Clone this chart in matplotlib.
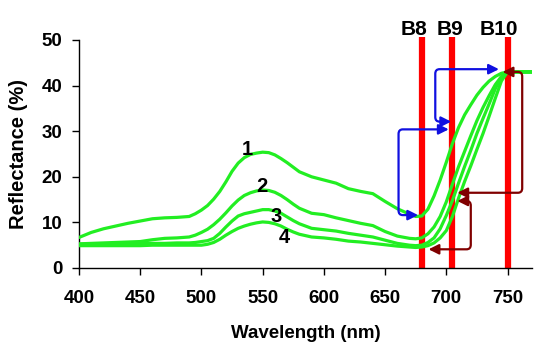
import matplotlib
matplotlib.use("Agg")
import matplotlib.pyplot as plt
from matplotlib.path import Path
from matplotlib.patches import FancyArrowPatch
import numpy as np

plt.rcParams['font.family'] = ['Liberation Sans', 'DejaVu Sans']
plt.rcParams['font.weight'] = 'bold'

wavelength = [400, 410, 420, 430, 440, 450, 460, 470, 480, 490,
              495, 500, 505, 510, 515, 520, 525, 530, 535, 540, 545, 550, 555, 560, 565, 570, 575, 580,
              590, 600, 610, 620, 630, 640, 650, 660,
              670, 675, 680, 685, 690, 695, 700, 705, 710, 715, 720, 725, 730, 735, 740, 745, 750,
              760, 770]
curve1 = [6.7, 7.8, 8.6, 9.2, 9.8, 10.3, 10.8, 11.0, 11.1, 11.3,
          11.9, 12.7, 13.7, 15.1, 16.8, 18.9, 21.2, 23.0, 24.2, 24.9, 25.2, 25.4, 25.3, 24.8, 24.0, 23.1, 22.1, 21.1,
          20.0, 19.3, 18.6, 17.4, 16.8, 16.3, 14.6, 13.0,
          11.8, 11.3, 11.4, 12.9, 15.8, 19.3, 23.2, 27.3, 30.8, 33.6, 35.8, 37.9, 39.6, 41.0, 42.0, 42.7, 43.0,
          43.0, 43.0]
curve2 = [5.3, 5.4, 5.5, 5.6, 5.7, 5.8, 6.2, 6.5, 6.6, 6.8,
          7.2, 7.8, 8.5, 9.5, 10.7, 12.1, 13.6, 14.9, 15.9, 16.5, 16.9, 17.1, 17.0, 16.6, 15.9, 15.0, 14.0, 13.1,
          12.0, 11.7, 11.0, 10.4, 9.8, 9.3, 8.0, 7.0,
          6.5, 6.4, 6.6, 7.5, 9.0, 11.3, 14.5, 18.4, 22.2, 25.6, 29.0, 32.3, 35.2, 37.8, 40.2, 42.0, 43.0,
          43.0, 43.0]
curve3 = [5.2, 5.2, 5.3, 5.3, 5.3, 5.4, 5.4, 5.4, 5.5, 5.5,
          5.6, 5.8, 6.0, 6.5, 7.6, 9.0, 10.3, 11.4, 11.9, 12.2, 12.5, 12.8, 12.8, 12.5, 12.0, 11.2, 10.4, 9.7,
          8.7, 8.4, 8.1, 7.6, 7.2, 6.8, 6.1, 5.4,
          5.0, 4.9, 5.0, 5.6, 6.6, 8.6, 11.5, 14.8, 18.6, 22.3, 25.8, 29.5, 32.8, 36.0, 39.3, 41.8, 43.0,
          43.0, 43.0]
curve4 = [4.9, 4.9, 4.9, 4.9, 4.9, 4.9, 5.0, 5.0, 5.0, 5.0,
          5.0, 5.0, 5.2, 5.6, 6.3, 7.2, 8.0, 8.7, 9.2, 9.6, 9.9, 10.1, 10.0, 9.7, 9.2, 8.5, 7.9, 7.4,
          6.8, 6.6, 6.3, 5.9, 5.7, 5.4, 5.1, 4.8,
          4.6, 4.5, 4.6, 4.9, 5.5, 6.6, 8.2, 11.3, 15.3, 19.0, 22.4, 26.0, 29.5, 33.3, 37.2, 41.0, 43.0,
          43.0, 43.0]
curves = [curve1, curve2, curve3, curve4]
curve_labels = ["1", "2", "3", "4"]
curve_label_pos = [(537.7, 25.9), (549.7, 17.8), (561.2, 11.4), (567.5, 6.7)]

bands = ["B8", "B9", "B10"]
band_wl = [680, 705, 750]
band_label_x = [674, 703, 743]

x_ticks = [400, 450, 500, 550, 600, 650, 700, 750]
y_ticks = [0, 10, 20, 30, 40, 50]

# bracket arrows: corner points (nm, %)
blue_arrows = [
    [(677, 11.6), (661, 11.6), (661, 30.4), (702, 30.4)],
    [(704, 32.1), (691, 32.1), (691, 43.6), (743, 43.6)],
]
brown_arrows = [
    [(746, 43.0), (762, 43.0), (762, 16.5), (709, 16.5)],
    [(709, 14.7), (720, 14.7), (720, 4.1), (685.5, 4.1)],
]

fig = plt.figure(figsize=(5.46, 3.6), dpi=100)
ax = fig.add_axes([79/546, 1-268/360, (532-79)/546, (268-40)/360])

green = '#22EE22'
for c in curves:
    ax.plot(wavelength, c, color=green, lw=2.3, solid_joinstyle='round',
            solid_capstyle='round', zorder=3)

for (lx, ly), t in zip(curve_label_pos, curve_labels):
    ax.text(lx, ly, t, fontsize=14.5, fontweight='bold', ha='center', va='center', zorder=5)

ax.vlines(band_wl, 0, 50.6, colors='#FF0000', lw=4.5, zorder=2, clip_on=False)
for bx, b in zip(band_label_x, bands):
    ax.text(bx, 51.0, b, fontsize=15, fontweight='bold', ha='center', va='baseline',
            clip_on=False)


def bracket_path(pts, rx=3.5, ry=1.0):
    verts = [pts[0]]
    codes = [Path.MOVETO]
    for i in range(1, len(pts) - 1):
        p = np.array(pts[i], float)
        a = np.array(pts[i - 1], float)
        b = np.array(pts[i + 1], float)
        din = np.sign(p - a)
        dout = np.sign(b - p)
        r = np.array([rx, ry])
        verts.append(tuple(p - din * r)); codes.append(Path.LINETO)
        verts.append(tuple(p)); codes.append(Path.CURVE3)
        verts.append(tuple(p + dout * r)); codes.append(Path.CURVE3)
    verts.append(pts[-1]); codes.append(Path.LINETO)
    return Path(verts, codes)


for pts in blue_arrows:
    ar = FancyArrowPatch(path=bracket_path(pts), transform=ax.transData,
                         arrowstyle='<|-|>,head_length=0.5,head_width=0.25',
                         mutation_scale=12, color='#1010E0', lw=1.6, zorder=6,
                         clip_on=False)
    ax.add_patch(ar)
for pts in brown_arrows:
    ar = FancyArrowPatch(path=bracket_path(pts), transform=ax.transData,
                         arrowstyle='<|-|>,head_length=0.5,head_width=0.25',
                         mutation_scale=12, color='#800000', lw=1.6, zorder=6,
                         clip_on=False)
    ax.add_patch(ar)

ax.set_xlim(400, 770)
ax.set_ylim(0, 50)
ax.set_xticks(x_ticks)
ax.set_yticks(y_ticks)
for s in ['top', 'right']:
    ax.spines[s].set_visible(False)
for s in ['left', 'bottom']:
    ax.spines[s].set_linewidth(1.0)
ax.tick_params(axis='x', direction='out', length=5, width=1, pad=11, labelsize=13.5)
ax.tick_params(axis='y', direction='out', length=5, width=1, pad=7, labelsize=13.5)
for lab in ax.get_xticklabels() + ax.get_yticklabels():
    lab.set_fontweight('bold')
ax.set_xlabel('Wavelength (nm)', fontsize=13.5, fontweight='bold', labelpad=13)
ax.set_ylabel('Reflectance (%)', fontsize=14.5, fontweight='bold', labelpad=10)

fig.savefig('out.png', dpi=100)
